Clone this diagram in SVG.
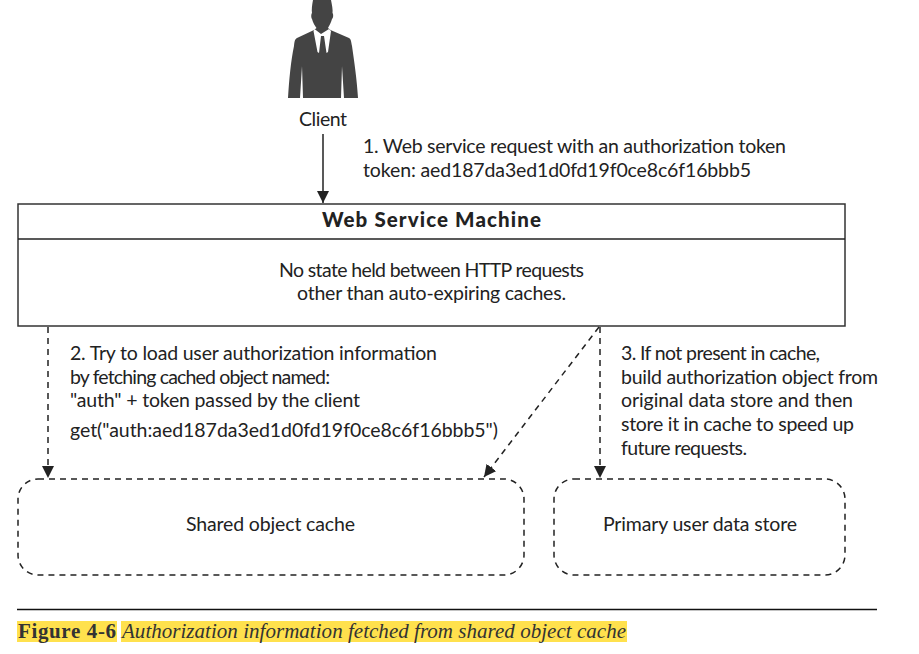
<svg xmlns="http://www.w3.org/2000/svg" width="919" height="654" viewBox="0 0 919 654">
<style>
text{font-family:"Lato","Liberation Sans",sans-serif;font-size:19.500px;fill:#222}
.box{fill:#fff;stroke:#333;stroke-width:1.5}
.dash{fill:none;stroke:#222;stroke-width:1.5;stroke-dasharray:6 5}
.line{fill:none;stroke:#222;stroke-width:1.5}
.cap{font-family:"Liberation Serif",serif;font-size:21px;fill:#333}
</style>
<defs>
<marker id="ah" markerUnits="userSpaceOnUse" markerWidth="14" markerHeight="12" refX="12" refY="6" orient="auto"><path d="M0 0L12 6L0 12Z" fill="#222"/></marker>
</defs>
<rect width="919" height="654" fill="#fff"/>
<g id="client">
<path fill="#444" d="M313 0H331C332 5 333 10 332.500 13C333.500 14 333.500 18 332 19C331 23 329 26 328 28L330.500 30L349 38C351 39 351 41 352 46C354 60 357 80 358 98H344L342 66L341 98H303L302 66L300 98H288C289 80 291 60 294 46C294.500 41 295 39 297 38L314 30L316.500 28C315 26 313 23 312 19C311 18 311 14 312 13C311.500 10 312 5 313 0Z"/>
<path fill="#fff" d="M314.500 29L321 34L329 29L331 31L328 52L326.500 53L324 36H321L319 53L317.500 52L313.500 31Z"/>
<text x="299" y="126" textLength="48">Client</text>
</g>
<g id="machine">
<rect class="box" x="18" y="204" width="827" height="122"/>
<line class="line" x1="18" y1="239" x2="845" y2="239"/>
<text x="322" y="227" textLength="219" style="font-weight:900;font-size:20.500px">Web Service Machine</text>
<text x="279" y="277" textLength="305">No state held between HTTP requests</text>
<text x="297" y="300" textLength="269">other than auto-expiring caches.</text>
</g>
<g id="cache">
<rect x="18" y="479" width="506" height="96" rx="20" fill="#fff" class="dash"/>
<text x="186" y="531" textLength="169">Shared object cache</text>
</g>
<g id="store">
<rect x="554" y="479" width="291" height="96" rx="20" fill="#fff" class="dash"/>
<text x="603" y="531" textLength="194">Primary user data store</text>
</g>
<g id="connectors">
<line class="line" x1="323" y1="134" x2="323" y2="203" marker-end="url(#ah)"/>
<line class="dash" x1="48" y1="327" x2="48" y2="478" marker-end="url(#ah)"/>
<line class="dash" x1="599" y1="327" x2="484" y2="477" marker-end="url(#ah)"/>
<line class="dash" x1="600" y1="327" x2="600" y2="478" marker-end="url(#ah)"/>
</g>
<g id="labels">
<text x="363" y="153" textLength="423">1. Web service request with an authorization token</text>
<text x="363" y="177" textLength="388">token: aed187da3ed1d0fd19f0ce8c6f16bbb5</text>
<text x="70" y="360" textLength="367">2. Try to load user authorization information</text>
<text x="70" y="384" textLength="260">by fetching cached object named:</text>
<text x="70" y="407" textLength="290">"auth" + token passed by the client</text>
<text x="70" y="437" textLength="428">get("auth:aed187da3ed1d0fd19f0ce8c6f16bbb5")</text>
<text x="621" y="360" textLength="199">3. If not present in cache,</text>
<text x="621" y="384" textLength="257">build authorization object from</text>
<text x="621" y="407" textLength="232">original data store and then</text>
<text x="621" y="431" textLength="233">store it in cache to speed up</text>
<text x="621" y="455" textLength="126">future requests.</text>
</g>
<g id="caption">
<line x1="17" y1="609.500" x2="877" y2="609.500" stroke="#111" stroke-width="1.300"/>
<rect x="17" y="621" width="100" height="21" fill="#ffe14d"/>
<rect x="121" y="621" width="506" height="21" fill="#ffe14d"/>
<text class="cap" x="18" y="638" textLength="98" style="font-weight:700">Figure 4-6</text>
<text class="cap" x="122" y="638" textLength="504" style="font-style:italic">Authorization information fetched from shared object cache</text>
</g>
</svg>
